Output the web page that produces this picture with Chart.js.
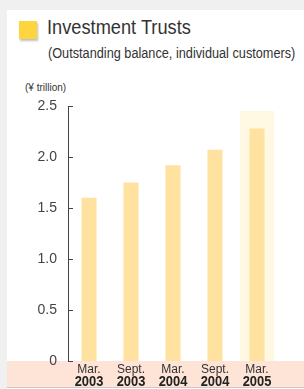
<!DOCTYPE html>
<html>
<head>
<meta charset="utf-8">
<script src="https://cdn.jsdelivr.net/npm/chart.js@4.4.1/dist/chart.umd.min.js"></script>
<style>
  html, body { margin: 0; padding: 0; }
  body {
    width: 304px; height: 389px; overflow: hidden; position: relative;
    background: #f0f0f0;
    font-family: "Liberation Sans", Arial, sans-serif;
  }
  #card { position: absolute; left: 7px; top: 10px; width: 297px; height: 379px; background: #fff; }
  #band { position: absolute; left: 7px; top: 361px; width: 297px; height: 26px; background: #fde4d6; border-bottom: 1px solid #c8c8c8; }
  #mark { position: absolute; left: 19px; top: 21px; width: 18px; height: 18px; background: #ffd53f; box-shadow: 1px 2px 2px rgba(0,0,0,0.25); }
  .txt { position: absolute; white-space: nowrap; color: #333; transform-origin: 0 0; }
  #title { left: 47px; top: 16px; font-size: 20px; }
  #sub { left: 48px; top: 45px; font-size: 14px; }
  #unit { left: 25px; top: 82px; font-size: 10px; }
  #wrap { position: absolute; left: 0; top: 0; width: 304px; height: 389px; }
</style>
</head>
<body>
<div id="card"></div>
<div id="band"></div>
<div id="mark"></div>
<div class="txt" id="title" data-w="144">Investment Trusts</div>
<div class="txt" id="sub" data-w="247">(Outstanding balance, individual customers)</div>
<div class="txt" id="unit" data-w="41">(¥ trillion)</div>
<div id="wrap"><canvas id="chart"></canvas></div>
<script>
// data
const months = ["Mar.", "Sept.", "Mar.", "Sept.", "Mar."];
const years = ["2003", "2003", "2004", "2004", "2005"];
const balance = [1.60, 1.75, 1.92, 2.07, 2.28];
const highlight = [null, null, null, null, 2.45];
const yTicks = [0, 0.5, 1.0, 1.5, 2.0, 2.5];

const FONT = "'Liberation Sans', Arial, sans-serif";

// condensed look: squeeze header texts to the width of the original
document.querySelectorAll(".txt").forEach(function (el) {
  const k = Number(el.dataset.w) / el.offsetWidth;
  el.style.transform = "scaleX(" + k + ")";
});

// tick marks pointing into the plot + year labels
const extras = {
  id: "extras",
  afterDraw(chart) {
    const ctx = chart.ctx;
    const y = chart.scales.y, x = chart.scales.x;
    const left = chart.chartArea.left;
    ctx.save();
    ctx.strokeStyle = "#444";
    ctx.lineWidth = 1;
    yTicks.forEach(function (v) {
      const py = Math.round(y.getPixelForValue(v)) + 0.5;
      ctx.beginPath();
      ctx.moveTo(left, py);
      ctx.lineTo(left + 5, py);
      ctx.stroke();
    });
    ctx.fillStyle = "#222";
    ctx.font = "bold 15px " + FONT;
    ctx.textAlign = "center";
    ctx.textBaseline = "alphabetic";
    years.forEach(function (yr, i) {
      const px = x.getPixelForValue(i);
      ctx.save();
      ctx.translate(px, 386);
      ctx.scale(0.86, 1);
      ctx.fillText(yr, 0, 0);
      ctx.restore();
    });
    ctx.restore();
  }
};

new Chart(document.getElementById("chart").getContext("2d"), {
  type: "bar",
  data: {
    labels: months,
    datasets: [
      {
        data: balance,
        backgroundColor: "#ffe1a0",
        barPercentage: 0.36,
        categoryPercentage: 1,
        grouped: false,
        order: 1
      },
      {
        data: highlight,
        backgroundColor: "#fff8e2",
        barPercentage: 0.81,
        categoryPercentage: 1,
        grouped: false,
        order: 2
      }
    ]
  },
  options: {
    responsive: true,
    maintainAspectRatio: false,
    animation: false,
    layout: { padding: { top: 106, right: 26, left: 0, bottom: 0 } },
    plugins: { legend: { display: false }, tooltip: { enabled: false } },
    scales: {
      y: {
        min: 0,
        max: 2.5,
        afterFit: function (s) { s.width = 68; },
        afterBuildTicks: function (s) { s.ticks = yTicks.map(function (v) { return { value: v }; }); },
        ticks: {
          padding: 11,
          color: "#444",
          font: { family: FONT, size: 14 },
          callback: function (v) { return v === 0 ? "0" : v.toFixed(1); }
        },
        grid: { display: false, drawTicks: false },
        border: { display: true, color: "#444", width: 1 }
      },
      x: {
        afterFit: function (s) { s.height = 28; },
        ticks: {
          padding: 1,
          color: "#333",
          font: { family: FONT, size: 12 },
          maxRotation: 0
        },
        grid: { display: false, drawTicks: false },
        border: { display: false }
      }
    }
  },
  plugins: [extras]
});
</script>
</body>
</html>
